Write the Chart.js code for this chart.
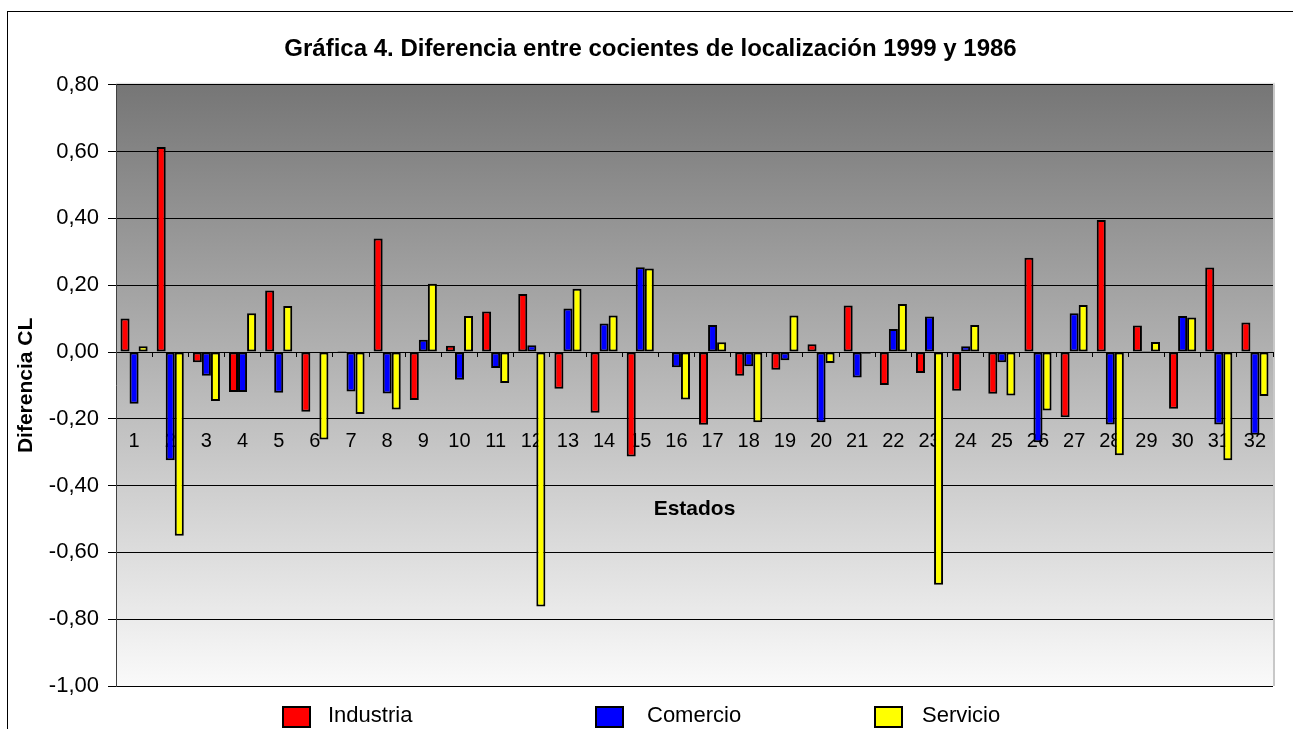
<!DOCTYPE html>
<html>
<head>
<meta charset="utf-8">
<script src="https://cdn.jsdelivr.net/npm/chart.js@4/dist/chart.umd.min.js"></script>
<style>
html,body{margin:0;padding:0;background:#fff;}
canvas{display:block;}
</style>
</head>
<body>
<canvas id="c" width="1293" height="729"></canvas>
<script>
const categories = ['1','2','3','4','5','6','7','8','9','10','11','12','13','14','15','16','17','18','19','20','21','22','23','24','25','26','27','28','29','30','31','32'];
const industria = [0.10, 0.614, -0.031, -0.12, 0.184, -0.179, 0.003, 0.34, -0.144, 0.019, 0.121, 0.174, -0.11, -0.182, -0.313, -0.003, -0.218, -0.071, -0.053, 0.023, 0.139, -0.099, -0.063, -0.116, -0.125, 0.282, -0.195, 0.395, 0.079, -0.17, 0.253, 0.088];
const comercio = [-0.155, -0.324, -0.071, -0.12, -0.122, 0, -0.118, -0.124, 0.037, -0.083, -0.048, 0.02, 0.13, 0.085, 0.254, -0.046, 0.081, -0.043, -0.025, -0.21, -0.076, 0.069, 0.106, 0.017, -0.031, -0.27, 0.116, -0.217, 0.003, 0.108, -0.217, -0.248];
const servicio = [0.017, -0.55, -0.147, 0.116, 0.138, -0.262, -0.186, -0.172, 0.204, 0.108, -0.093, -0.762, 0.189, 0.109, 0.25, -0.142, 0.029, -0.21, 0.109, -0.033, -0.005, 0.144, -0.697, 0.081, -0.13, -0.175, 0.141, -0.309, 0.03, 0.103, -0.324, -0.132];
const seriesNames = ['Industria', 'Comercio', 'Servicio'];
const seriesColors = ['#ff0000', '#0000ff', '#ffff00'];
const titleText = 'Gráfica 4. Diferencia entre cocientes de localización 1999 y 1986';
const yTitle = 'Diferencia CL';
const xTitle = 'Estados';
const yMin = -1.0, yMax = 0.8, yStep = 0.2;

const FONT = 'Arial, "Liberation Sans", sans-serif';

const bgPlugin = {
  id: 'bg',
  beforeDraw(chart) {
    const {ctx, chartArea: a} = chart;
    ctx.save();
    const g = ctx.createLinearGradient(0, a.top, 0, a.bottom);
    g.addColorStop(0, 'rgb(118,118,118)');
    g.addColorStop(1, 'rgb(250,250,250)');
    ctx.fillStyle = g;
    ctx.fillRect(a.left, a.top, a.right - a.left, a.bottom - a.top);
    ctx.fillStyle = '#c8c8c8';
    ctx.fillRect(a.right, a.top - 1, 2, a.bottom - a.top + 1);
    ctx.fillStyle = '#e0e0e0';
    ctx.fillRect(a.left, a.top - 2, a.right - a.left + 2, 2);
    ctx.strokeStyle = '#000';
    ctx.lineWidth = 1;
    ctx.strokeRect(7.5, 11.5, 1400, 900);
    ctx.restore();
  }
};

const legendPlugin = {
  id: 'customLegend',
  afterDraw(chart) {
    const {ctx} = chart;
    const boxX = [283, 596, 875];
    const textX = [328, 647, 922];
    ctx.save();
    ctx.font = '22px ' + FONT;
    ctx.textBaseline = 'middle';
    ctx.textAlign = 'left';
    chart.data.datasets.forEach((ds, i) => {
      ctx.fillStyle = ds.backgroundColor;
      ctx.fillRect(boxX[i], 707, 27, 20);
      ctx.strokeStyle = '#000';
      ctx.lineWidth = 2;
      ctx.strokeRect(boxX[i], 707, 27, 20);
      ctx.fillStyle = '#000';
      ctx.fillText(ds.label, textX[i], 716);
    });
    ctx.restore();
  }
};

const fmt = v => v.toFixed(2).replace('.', ',');

new Chart(document.getElementById('c'), {
  type: 'bar',
  data: {
    labels: categories,
    datasets: [
      {label: seriesNames[0], data: industria, backgroundColor: seriesColors[0]},
      {label: seriesNames[1], data: comercio, backgroundColor: seriesColors[1]},
      {label: seriesNames[2], data: servicio, backgroundColor: seriesColors[2]}
    ].map(d => Object.assign(d, {borderColor: '#000', borderWidth: 2, borderSkipped: false, categoryPercentage: 0.75, barPercentage: 1.0}))
  },
  options: {
    responsive: false,
    animation: false,
    layout: {padding: {left: 28, right: 20, top: 0, bottom: 43}},
    plugins: {
      legend: {display: false},
      tooltip: {enabled: false},
      title: {
        display: true,
        text: titleText,
        color: '#000',
        font: {family: FONT, size: 24, weight: 'bold'},
        padding: {top: 35, bottom: 21}
      }
    },
    scales: {
      y: {
        min: yMin, max: yMax,
        afterFit(scale) { scale.width = 88; },
        ticks: {
          stepSize: yStep,
          color: '#000',
          font: {family: FONT, size: 22},
          padding: 9,
          callback: v => fmt(v)
        },
        grid: {color: '#000', lineWidth: 1, tickLength: 8, tickColor: '#000'},
        border: {color: '#404040', width: 1},
        title: {
          display: true, text: yTitle, color: '#000',
          font: {family: FONT, size: 21, weight: 'bold'},
          padding: {top: -14, bottom: 0}
        }
      },
      x: {
        type: 'category',
        position: {y: 0},
        offset: true,
        ticks: {display: false},
        grid: {offset: true, drawOnChartArea: false, drawTicks: true, tickLength: 5, tickColor: '#000'},
        border: {display: false}
      },
      x2: {
        type: 'category',
        axis: 'x',
        position: {y: -0.2},
        offset: true,
        ticks: {color: '#000', font: {family: FONT, size: 20}, padding: 3, maxRotation: 0, autoSkip: false},
        grid: {display: false},
        border: {display: false},
        title: {
          display: true, text: xTitle, color: '#000',
          font: {family: FONT, size: 21, weight: 'bold'},
          padding: {top: 40, bottom: 0}
        }
      }
    }
  },
  plugins: [bgPlugin, legendPlugin]
});
</script>
</body>
</html>
